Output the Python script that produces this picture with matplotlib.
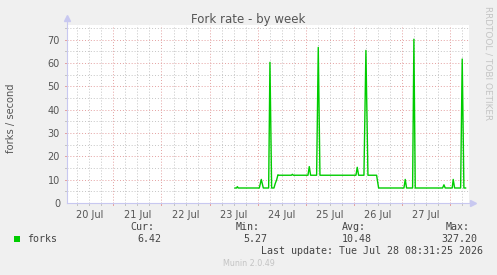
import numpy as np
import matplotlib
matplotlib.use('Agg')
import matplotlib.pyplot as plt
from matplotlib.patches import Rectangle

# data: time in days since 20 Jul 00:00, forks per second
t_days = [3.527, 3.562, 3.576, 3.596, 4.033, 4.074, 4.116, 4.227, 4.254, 4.289,
          4.337, 4.365, 4.393, 4.420, 4.434, 4.700, 4.720, 4.740, 5.044, 5.071,
          5.099, 5.224, 5.258, 5.293, 6.041, 6.068, 6.096, 6.207, 6.248, 6.290,
          6.470, 6.512, 7.038, 7.065, 7.093, 7.218, 7.245, 7.273, 7.841, 7.869,
          7.896, 8.041, 8.062, 8.091, 8.216, 8.249, 8.284, 8.319]
forks = [6.43, 6.43, 7.0, 6.43, 6.43, 10.1, 6.43, 6.43, 60.3, 6.43,
         6.43, 8.4, 9.9, 12.1, 11.9, 11.9, 12.3, 11.9, 11.9, 15.6,
         11.9, 11.9, 66.7, 11.9, 11.9, 15.3, 11.9, 11.9, 65.4, 11.9,
         11.9, 6.43, 6.43, 10.1, 6.43, 6.43, 70.2, 6.43, 6.43, 7.8,
         6.43, 6.43, 10.1, 6.43, 6.43, 61.7, 6.43, 6.43]

day_labels = ['20 Jul', '21 Jul', '22 Jul', '23 Jul', '24 Jul', '25 Jul', '26 Jul', '27 Jul']
y_ticks = [0, 10, 20, 30, 40, 50, 60, 70]

stats_names = ['Cur:', 'Min:', 'Avg:', 'Max:']
stats_vals = ['6.42', '5.27', '10.48', '327.20']

W, H = 497, 275
fig = plt.figure(figsize=(W / 100, H / 100), dpi=100, facecolor='#f0f0f0')

def px(x, y):
    return x / W, 1 - y / H

ax = fig.add_axes([67 / W, (H - 203) / H, (469 - 67) / W, (203 - 24.5) / H])
ax.set_facecolor('white')
ax.set_xlim(0.037, 8.39)
ax.set_ylim(0, 76.5)

grey = '#c4c4c4'
red = '#e4a0a0'
dots = (0, (1, 2))
lw = 0.7

# grid: minor grey every 6h / 5 units, major red at midnight / 10 units
minor_x = [d for d in np.arange(0.25, 8.39, 0.25) if abs(d - round(d)) > 1e-6]
for d in minor_x:
    ax.axvline(d, color=grey, lw=lw, ls=dots, zorder=1)
    ax.plot([d, d], [0, -1.0], color=grey, lw=lw, clip_on=False)
for d in range(1, 9):
    ax.axvline(d, color=red, lw=lw, ls=dots, zorder=1)
    ax.plot([d, d], [0, -1.0], color=red, lw=lw, clip_on=False)
for v in np.arange(5, 80, 10):
    ax.axhline(v, color=grey, lw=lw, ls=dots, zorder=1)
    ax.plot([0.037, -0.005], [v, v], color=grey, lw=lw, clip_on=False)
for v in y_ticks[1:]:
    ax.axhline(v, color=red, lw=lw, ls=dots, zorder=1)
    ax.plot([0.037, -0.005], [v, v], color=red, lw=lw, clip_on=False)

ax.plot(t_days, forks, color='#00cc00', lw=1.0, zorder=3)

ax.set_xticks([i + 0.5 for i in range(len(day_labels))])
ax.set_xticklabels(day_labels)
ax.set_yticks(y_ticks)
ax.tick_params(length=0, labelsize=7, labelcolor='#555555', pad=5)
for lab in ax.get_xticklabels() + ax.get_yticklabels():
    lab.set_fontfamily('DejaVu Sans')

for s in ['top', 'right']:
    ax.spines[s].set_visible(False)
for s in ['left', 'bottom']:
    ax.spines[s].set_color('#c8c8f0')
    ax.spines[s].set_linewidth(0.8)
    ax.spines[s].set_zorder(4)
ax.spines['left'].set_bounds(0, 78.5)
ax.spines['bottom'].set_bounds(0.037, 8.45)
# axis arrows
ax.plot([0.037], [79.5], marker='^', ms=4, color='#c8c8f0', clip_on=False)
ax.plot([8.47], [0], marker='>', ms=4, color='#c8c8f0', clip_on=False)

# titles
fig.text(*px(248, 19), 'Fork rate - by week', ha='center', va='center',
         fontsize=8.5, color='#555555')
fig.text(*px(11, 118), 'forks / second', ha='center', va='center',
         rotation=90, fontsize=7.1, color='#555555')
fig.text(*px(488, 6), 'RRDTOOL / TOBI OETIKER', ha='center', va='top',
         rotation=270, fontsize=6.4, color='#c4c4c4')

# legend
fig.patches.append(Rectangle(px(14, 242), 6 / W, 6 / H, transform=fig.transFigure,
                             facecolor='#00cc00', edgecolor='none'))
mono = 'DejaVu Sans Mono'
fig.text(*px(27, 239.5), 'forks', ha='left', va='center', fontsize=7.2,
         family=mono, color='#444444')
name_right = [154, 260, 366, 470]
val_right = [161, 267, 372, 477]
for n, v, xr, xv in zip(stats_names, stats_vals, name_right, val_right):
    fig.text(*px(xr, 227.5), n, ha='right', va='center', fontsize=7.2,
             family=mono, color='#444444')
    fig.text(*px(xv, 239.5), v, ha='right', va='center', fontsize=7.2,
             family=mono, color='#444444')
fig.text(*px(483, 251.5), 'Last update: Tue Jul 28 08:31:25 2026', ha='right',
         va='center', fontsize=7.2, family=mono, color='#444444')
fig.text(*px(249, 263.5), 'Munin 2.0.49', ha='center', va='center',
         fontsize=5.8, color='#c4c4c4')

fig.savefig('out.png', dpi=100, facecolor=fig.get_facecolor())
